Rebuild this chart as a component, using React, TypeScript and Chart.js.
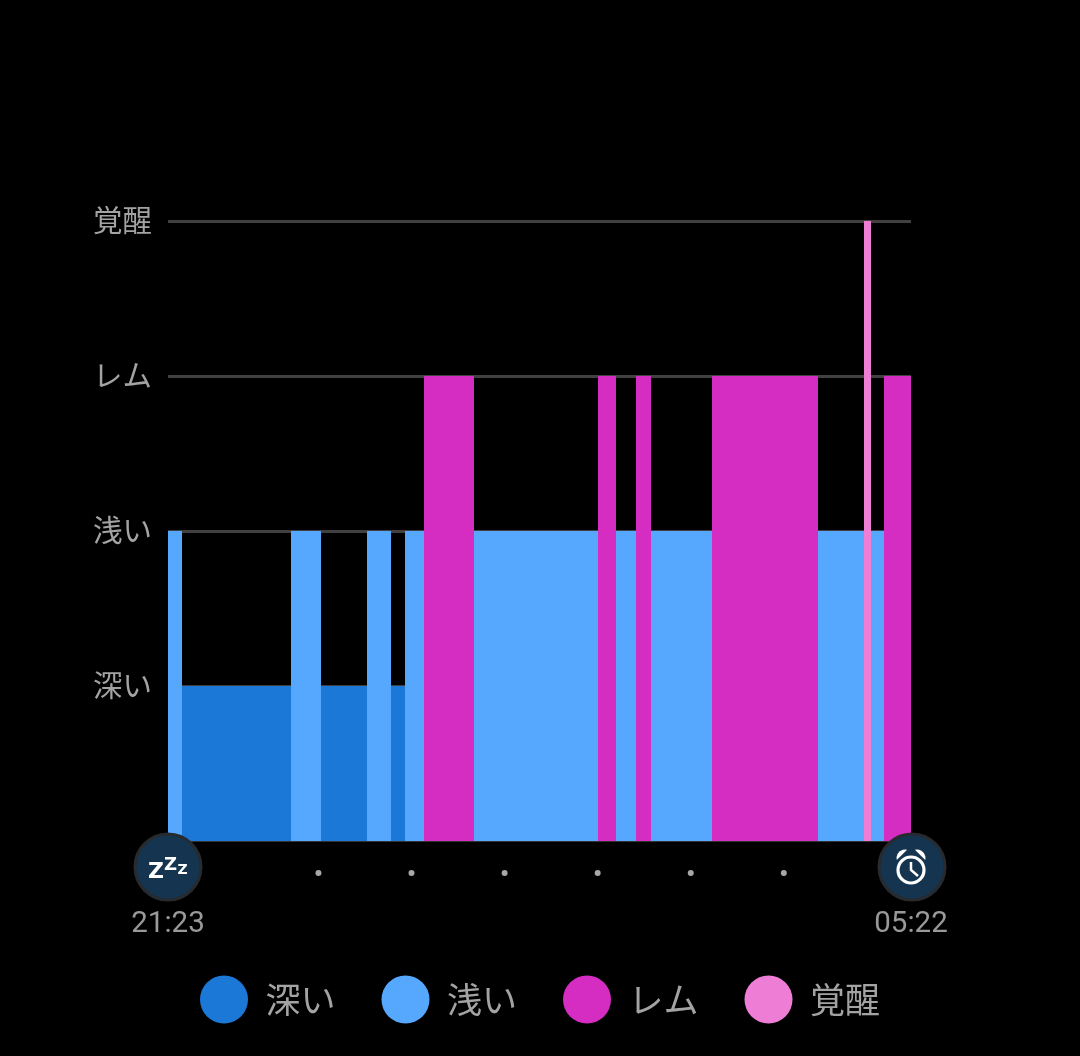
import React, { useEffect, useRef } from "react";
import { Chart, registerables } from "chart.js";

Chart.register(...registerables);

// Minutes after sleep start (21:23) at which the stage changes
const stageBoundaries = [0, 9, 79, 98.5, 128, 144, 153, 165, 197, 277, 289, 302, 311.5, 351, 419, 449, 453, 461.5, 479];
// Stage held in each interval between boundaries (1 deep, 2 light, 3 REM, 4 awake)
const stageSequence = [2, 1, 2, 1, 2, 1, 2, 3, 2, 3, 2, 3, 2, 3, 2, 4, 2, 3];
const stageLevels = [1, 2, 3, 4];
const stageNames = ["深い", "浅い", "レム", "覚醒"];
const stageColors = ["#1b78d6", "#56a8ff", "#d52cc2", "#ee7dd6"];
const hourDotMinutes = [97, 157, 217, 277, 337, 397];
const startLabel = "21:23";
const endLabel = "05:22";
const totalMinutes = 479;

const LABEL = "#a3a3a3";
const CJK = '"Noto Sans CJK JP", "Noto Sans", sans-serif';

const decorations = {
  id: "decorations",
  // Snap stage edges to whole pixels so neighbouring fills leave no seam
  afterDatasetsUpdate(chart: any) {
    chart.data.datasets.forEach((_: any, i: number) => {
      chart.getDatasetMeta(i).data.forEach((p: any) => {
        p.x = Math.round(p.x);
      });
    });
  },
  afterDraw(chart: any) {
    const { ctx, scales } = chart;
    const x = scales.x;
    const bottom = scales.y.getPixelForValue(0);
    const sx = x.getPixelForValue(0);
    const ex = x.getPixelForValue(totalMinutes);
    const cy = bottom + 26;
    ctx.save();

    ctx.fillStyle = "#a8a8a8";
    for (const m of hourDotMinutes) {
      ctx.beginPath();
      ctx.arc(x.getPixelForValue(m), bottom + 32, 3, 0, Math.PI * 2);
      ctx.fill();
    }

    for (const px of [sx, ex + 1]) {
      ctx.beginPath();
      ctx.arc(px, cy, 33, 0, Math.PI * 2);
      ctx.fillStyle = "#14344f";
      ctx.fill();
      ctx.lineWidth = 3;
      ctx.strokeStyle = "#272b2f";
      ctx.stroke();
    }

    // zZz glyphs
    ctx.fillStyle = "#ffffff";
    ctx.textAlign = "center";
    ctx.textBaseline = "alphabetic";
    ctx.font = 'bold 22px "DejaVu Sans", sans-serif';
    ctx.fillText("Z", sx - 12, cy + 11);
    ctx.font = 'bold 18px "DejaVu Sans", sans-serif';
    ctx.fillText("Z", sx + 2.5, cy + 3);
    ctx.font = 'bold 14px "DejaVu Sans", sans-serif';
    ctx.fillText("Z", sx + 14.5, cy + 7);

    // Alarm clock glyph
    const ax = ex;
    const ay = cy + 3;
    ctx.strokeStyle = "#ffffff";
    ctx.lineWidth = 3.2;
    ctx.beginPath();
    ctx.arc(ax, ay, 13, 0, Math.PI * 2);
    ctx.stroke();
    ctx.lineWidth = 2.5;
    ctx.beginPath();
    ctx.moveTo(ax, ay - 8);
    ctx.lineTo(ax, ay);
    ctx.lineTo(ax + 7, ay + 6);
    ctx.stroke();
    for (const [bx, a0, a1] of [
      [ax - 6, Math.PI * 0.92, Math.PI * 1.58],
      [ax + 6, Math.PI * 1.42, Math.PI * 2.08],
    ]) {
      ctx.beginPath();
      ctx.arc(bx, ay - 12, 8.5, a0, a1);
      ctx.closePath();
      ctx.fillStyle = "#ffffff";
      ctx.fill();
    }

    // Start and end times
    ctx.fillStyle = "#999999";
    ctx.font = "29.5px Roboto, sans-serif";
    ctx.textBaseline = "middle";
    ctx.fillText(startLabel, sx, bottom + 84);
    ctx.fillText(endLabel, ex, bottom + 84);
    ctx.restore();
  },
};

function buildPoints(level: number) {
  const points: { x: number; y: number | null }[] = [];
  stageSequence.forEach((s, i) => {
    if (s !== level) return;
    points.push({ x: stageBoundaries[i], y: level });
    points.push({ x: stageBoundaries[i + 1], y: level });
    points.push({ x: stageBoundaries[i + 1], y: null });
  });
  return points;
}

export default function App() {
  const ref = useRef<HTMLCanvasElement>(null);

  useEffect(() => {
    document.documentElement.style.background = "#000";
    document.body.style.margin = "0";
    document.body.style.background = "#000";
    const chart = new Chart(ref.current as HTMLCanvasElement, {
      type: "line",
      data: {
        datasets: stageLevels.map((level, i) => ({
          label: stageNames[i],
          data: buildPoints(level),
          backgroundColor: stageColors[i],
          borderColor: stageColors[i],
          pointBackgroundColor: stageColors[i],
          pointBorderWidth: 0,
          borderWidth: 0,
          pointRadius: 0,
          tension: 0,
          fill: "origin",
          spanGaps: false,
        })),
      },
      options: {
        responsive: false,
        animation: false,
        devicePixelRatio: 1,
        layout: { padding: { top: 221, right: 0, left: 0, bottom: 29 } },
        plugins: {
          tooltip: { enabled: false },
          legend: {
            position: "bottom",
            labels: {
              usePointStyle: true,
              pointStyle: "circle",
              pointStyleWidth: 48,
              boxHeight: 34,
              padding: 46,
              color: LABEL,
              font: { size: 35, family: CJK },
            },
          },
        },
        scales: {
          x: {
            type: "linear",
            min: 0,
            max: totalMinutes,
            grid: { display: false },
            border: { display: true, color: "#333333", width: 2 },
            ticks: { display: false },
            afterFit(s: any) {
              s.height = 95;
            },
          },
          y: {
            min: 0,
            max: 4,
            afterBuildTicks(s: any) {
              s.ticks = stageLevels.map((value) => ({ value }));
            },
            afterFit(s: any) {
              s.width = 168;
            },
            grid: { color: "#404040", lineWidth: 3, drawTicks: false },
            border: { display: false },
            ticks: {
              padding: 16,
              labelOffset: -1.5,
              color: LABEL,
              font: { size: 29.5, family: CJK },
              autoSkip: false,
              callback: (v: any) => stageNames[Number(v) - 1] ?? "",
            },
          },
          // Empty right-hand gutter, keeps the legend centred on the whole canvas
          gutter: {
            type: "linear",
            position: "right",
            min: 0,
            max: 4,
            grid: { display: false },
            border: { display: false },
            ticks: { display: false },
            afterFit(s: any) {
              s.width = 169;
            },
          },
        },
      } as any,
      plugins: [decorations],
    });
    return () => chart.destroy();
  }, []);

  return (
    <div style={{ width: 1080, height: 1056, background: "#000" }}>
      <canvas ref={ref} width={1080} height={1056} style={{ display: "block" }} />
    </div>
  );
}
